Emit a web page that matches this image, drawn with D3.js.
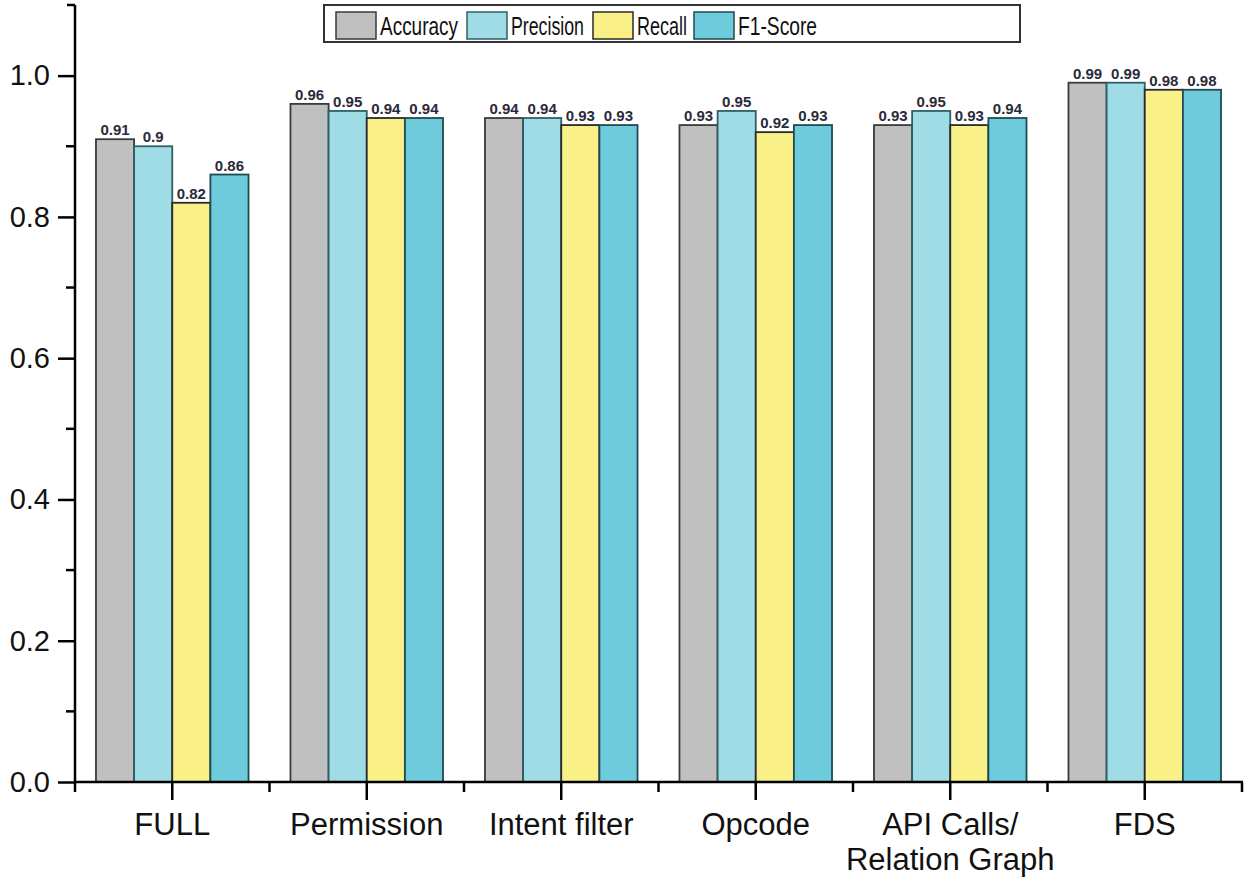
<!DOCTYPE html>
<html>
<head>
<meta charset="utf-8">
<script src="https://cdn.jsdelivr.net/npm/d3@7"></script>
<style>
  body { margin: 0; background: #fff; }
  text { font-family: "Liberation Sans", Arial, sans-serif; }
</style>
</head>
<body>
<svg id="chart" width="1250" height="887"></svg>
<script>
// data
var categories = ["FULL", "Permission", "Intent filter", "Opcode", "API Calls/\nRelation Graph", "FDS"];
var series = ["Accuracy", "Precision", "Recall", "F1-Score"];
var accuracy  = [0.91, 0.96, 0.94, 0.93, 0.93, 0.99];
var precision = [0.90, 0.95, 0.94, 0.95, 0.95, 0.99];
var recall    = [0.82, 0.94, 0.93, 0.92, 0.93, 0.98];
var f1score   = [0.86, 0.94, 0.93, 0.93, 0.94, 0.98];
var yTicks = [0.0, 0.2, 0.4, 0.6, 0.8, 1.0];

var values = [accuracy, precision, recall, f1score];
var fills = ["#c0c0c0", "#a0dce6", "#f9f088", "#6ecbdc"];
var strokes = ["#3a3a3a", "#2f5f66", "#2a2a2a", "#1f4a52"];

var svg = d3.select("#chart"),
    plotL = 75, plotR = 1242, plotT = 5, plotB = 782;

var x0 = d3.scaleBand().domain(d3.range(categories.length)).range([plotL, plotR]).padding(0);
var x1 = d3.scaleBand().domain(d3.range(series.length)).range([0, x0.bandwidth()]).paddingOuter(0.55).paddingInner(0);
var y = d3.scaleLinear().domain([0, 1.1]).range([plotB, plotT]);

// bars
var groups = svg.append("g").selectAll("g")
    .data(categories).enter()
    .append("g")
    .attr("transform", function(d, i) { return "translate(" + x0(i) + ",0)"; });

groups.each(function(c, ci) {
    var g = d3.select(this);
    series.forEach(function(s, si) {
        var v = values[si][ci];
        g.append("rect")
            .attr("x", x1(si))
            .attr("y", y(v))
            .attr("width", x1.bandwidth())
            .attr("height", y(0) - y(v))
            .attr("fill", fills[si])
            .attr("stroke", strokes[si])
            .attr("stroke-width", 1.8);
        g.append("text")
            .attr("x", x1(si) + x1.bandwidth() / 2)
            .attr("y", y(v) - 4)
            .attr("text-anchor", "middle")
            .attr("font-size", 15)
            .attr("font-weight", "bold")
            .attr("fill", "#2a2a3a")
            .text(String(v));
    });
});

// y axis
var yAxis = d3.axisLeft(y).tickValues(yTicks).tickSize(17).tickPadding(8)
    .tickFormat(d3.format(".1f"));
var ya = svg.append("g").attr("transform", "translate(" + plotL + ",0)").call(yAxis);
ya.select(".domain").remove();
ya.selectAll("line").attr("stroke", "#000").attr("stroke-width", 2.5);
ya.selectAll("text").attr("font-size", 29).attr("fill", "#111")
    .attr("font-family", null)
    .style("font-family", "Liberation Sans, Arial, sans-serif");
// minor y ticks
svg.append("g").selectAll("line")
    .data([0.1, 0.3, 0.5, 0.7, 0.9]).enter()
    .append("line")
    .attr("x1", plotL - 9).attr("x2", plotL)
    .attr("y1", function(d) { return y(d); })
    .attr("y2", function(d) { return y(d); })
    .attr("stroke", "#000").attr("stroke-width", 2.5);
svg.append("line")
    .attr("x1", plotL).attr("x2", plotL).attr("y1", plotT).attr("y2", plotB + 1)
    .attr("stroke", "#000").attr("stroke-width", 2.5);
svg.append("line")
    .attr("x1", plotL - 8).attr("x2", plotL).attr("y1", plotT).attr("y2", plotT)
    .attr("stroke", "#000").attr("stroke-width", 2.5);

// x axis
svg.append("line")
    .attr("x1", plotL).attr("x2", plotR + 1).attr("y1", plotB).attr("y2", plotB)
    .attr("stroke", "#000").attr("stroke-width", 2.5);
// major ticks at category centers
svg.append("g").selectAll("line")
    .data(categories).enter()
    .append("line")
    .attr("x1", function(d, i) { return x0(i) + x0.bandwidth() / 2; })
    .attr("x2", function(d, i) { return x0(i) + x0.bandwidth() / 2; })
    .attr("y1", plotB).attr("y2", plotB + 18)
    .attr("stroke", "#000").attr("stroke-width", 2.5);
// minor ticks at category boundaries
svg.append("g").selectAll("line")
    .data(d3.range(categories.length + 1)).enter()
    .append("line")
    .attr("x1", function(d) { return plotL + d * x0.bandwidth(); })
    .attr("x2", function(d) { return plotL + d * x0.bandwidth(); })
    .attr("y1", plotB).attr("y2", plotB + 10)
    .attr("stroke", "#000").attr("stroke-width", 2.5);
// category labels
svg.append("g").selectAll("text")
    .data(categories).enter()
    .append("text")
    .attr("x", function(d, i) { return x0(i) + x0.bandwidth() / 2; })
    .attr("y", 835)
    .attr("text-anchor", "middle")
    .attr("font-size", 31)
    .attr("fill", "#111")
    .each(function(d) {
        var t = d3.select(this);
        d.split("\n").forEach(function(line, li) {
            t.append("tspan")
                .attr("x", t.attr("x"))
                .attr("dy", li === 0 ? 0 : 35)
                .text(line);
        });
    });

// legend
var legend = svg.append("g");
legend.append("rect")
    .attr("x", 324).attr("y", 5).attr("width", 696).attr("height", 37)
    .attr("fill", "#fff").attr("stroke", "#333").attr("stroke-width", 2);
var legX = [336, 467, 593, 694];
var legW = [78, 73, 50, 79];
series.forEach(function(s, si) {
    legend.append("rect")
        .attr("x", legX[si]).attr("y", 12)
        .attr("width", 40).attr("height", 27)
        .attr("fill", fills[si]).attr("stroke", strokes[si]).attr("stroke-width", 1.5);
    legend.append("text")
        .attr("x", legX[si] + 44).attr("y", 35)
        .attr("font-size", 25).attr("fill", "#111")
        .attr("textLength", legW[si])
        .attr("lengthAdjust", "spacingAndGlyphs")
        .text(s);
});
</script>
</body>
</html>
